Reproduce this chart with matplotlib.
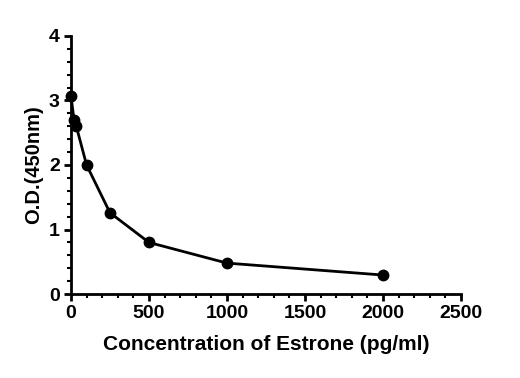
import numpy as np
import matplotlib.pyplot as plt
from matplotlib.ticker import MultipleLocator

# Estrone standard curve
conc = [0, 20, 33, 100, 250, 500, 1000, 2000]
od = [3.07, 2.69, 2.61, 2.0, 1.26, 0.80, 0.48, 0.295]

plt.rcParams['font.family'] = ['Liberation Sans', 'DejaVu Sans']
plt.rcParams['font.weight'] = 'bold'

fig = plt.figure(figsize=(5.2, 3.78), dpi=100)
ax = fig.add_axes([0.1365, 0.222, 0.75, 0.683])

ax.plot(conc, od, color='k', linewidth=2, marker='o', markersize=7.5, clip_on=False)

ax.set_xlim(0, 2500)
ax.set_ylim(0, 4)
ax.xaxis.set_major_locator(MultipleLocator(500))
ax.xaxis.set_minor_locator(MultipleLocator(100))
ax.yaxis.set_major_locator(MultipleLocator(1))
ax.yaxis.set_minor_locator(MultipleLocator(0.2))

for s in ['top', 'right']:
    ax.spines[s].set_visible(False)
for s in ['left', 'bottom']:
    ax.spines[s].set_linewidth(2)

ax.tick_params(which='major', length=5, width=2, labelsize=14, pad=3)
ax.tick_params(which='minor', length=3, width=1.5)

ax.set_xlabel('Concentration of Estrone (pg/ml)', fontsize=15, fontweight='bold', labelpad=9)
ax.set_ylabel('O.D.(450nm)', fontsize=14.5, fontweight='bold', labelpad=4)

fig.savefig('out.png', dpi=100)
